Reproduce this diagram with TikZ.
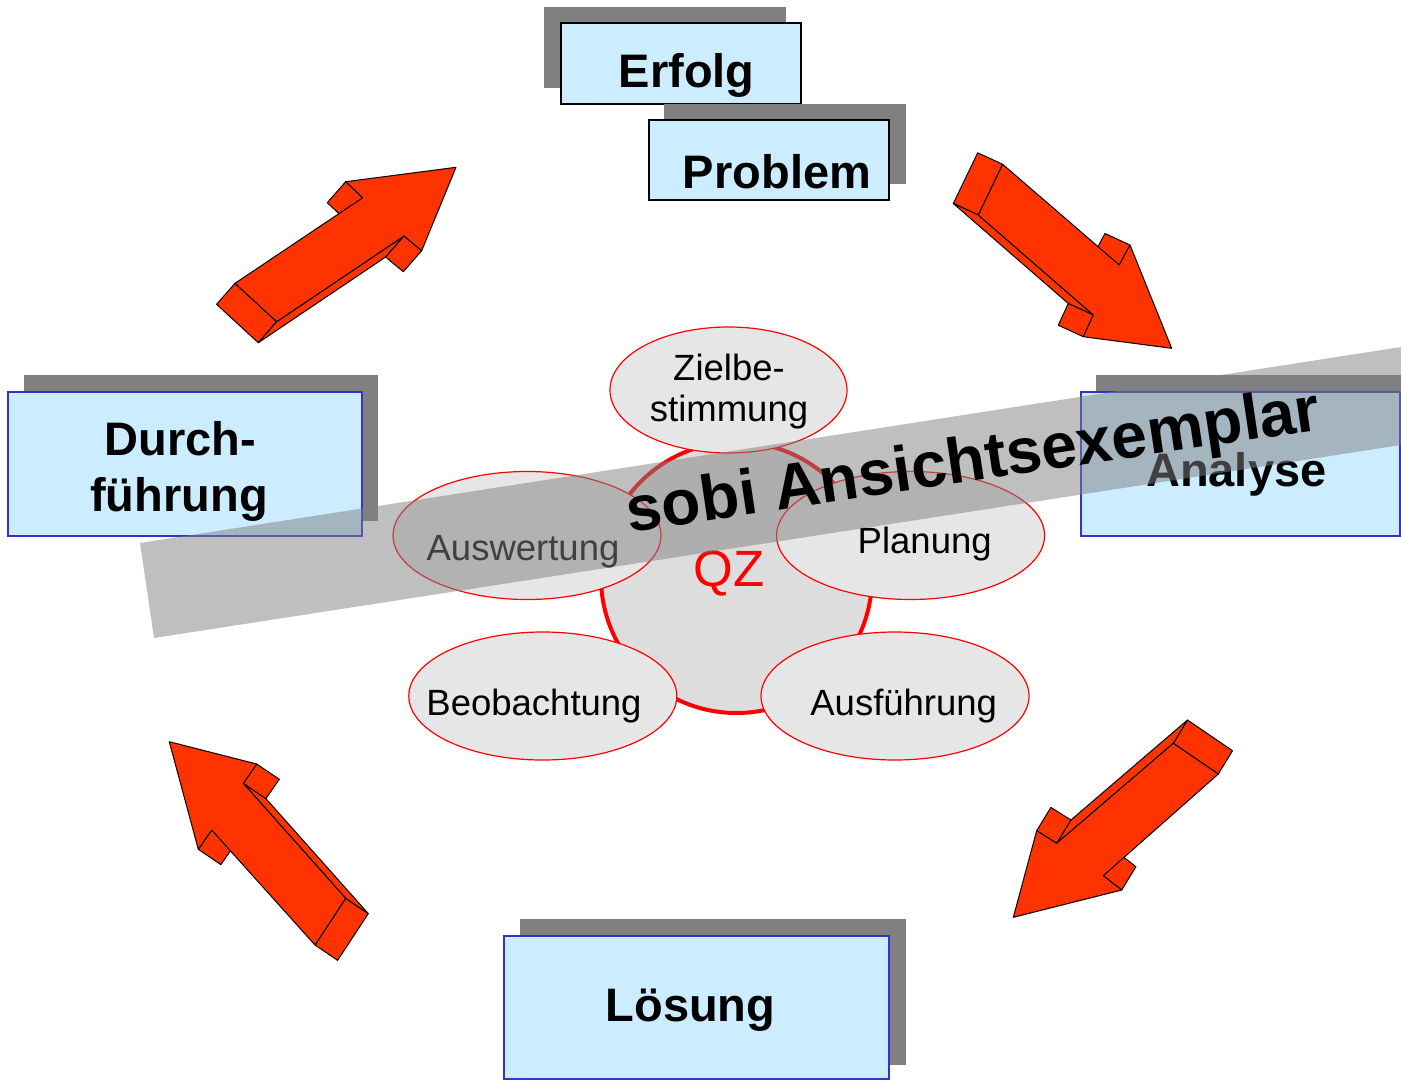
\documentclass[tikz,border=0pt]{standalone}
\usepackage{fontspec}
\setmainfont{Liberation Sans}
\usetikzlibrary{shapes.geometric,calc}
\definecolor{arrowred}{RGB}{255,51,0}
\definecolor{boxblue}{RGB}{204,236,255}
\definecolor{borderblue}{RGB}{51,51,204}
\definecolor{shadowgray}{RGB}{128,128,128}
\definecolor{ellgray}{RGB}{230,230,230}
\definecolor{circgray}{RGB}{221,221,221}
\newcommand\sideface[3]{\filldraw[arrowbody] (#1) -- (#2) -- ($(#2)+(#3)$) -- ($(#1)+(#3)$) -- cycle;}
\newcommand\frontface[1]{\filldraw[arrowbody] (#1p1) -- (#1p2) -- (#1p3) -- (#1p4) -- (#1p5) -- (#1p6) -- (#1p7) -- cycle;}
\begin{document}
\begin{tikzpicture}[x=1pt,y=-1pt,
  arrowbody/.style={fill=arrowred, draw=black, line width=1pt, line join=round},
  shadowbox/.style={fill=shadowgray},
  blackbox/.style={rectangle, draw=black, fill=boxblue, line width=2pt, inner sep=0pt},
  bluebox/.style={rectangle, draw=borderblue, fill=boxblue, line width=2pt, inner sep=0pt},
  boxtext/.style={anchor=base, inner sep=0pt, font=\bfseries\fontsize{47}{56}\selectfont},
  oval/.style={ellipse, draw=red, line width=1.2pt, fill=ellgray, inner sep=0pt,
               minimum width=268pt, minimum height=128pt},
  ovaltext/.style={anchor=base, inner sep=0pt, font=\fontsize{36.5}{40}\selectfont},
]
\useasboundingbox (0,0) rectangle (1401,1080);

% ---------- arrow 1 (top right) ----------
\coordinate (a1p1) at (1002.7,164.3);
\coordinate (a1p2) at (1119.3,265);
\coordinate (a1p3) at (1130,245);
\coordinate (a1p4) at (1171.7,348.3);
\coordinate (a1p5) at (1083.3,336.7);
\coordinate (a1p6) at (1093.3,315);
\coordinate (a1p7) at (978.3,215);
\coordinate (a1o) at (-25,-11.5);
\sideface{a1p7}{a1p1}{a1o}
\sideface{a1p6}{a1p7}{a1o}
\sideface{a1p5}{a1p6}{a1o}
\sideface{a1p2}{a1p3}{a1o}
\frontface{a1}

% ---------- arrow 2 (top left) ----------
\coordinate (a2p1) at (235,283.3);
\coordinate (a2p2) at (362.7,197.7);
\coordinate (a2p3) at (345.7,181.7);
\coordinate (a2p4) at (456,167.3);
\coordinate (a2p5) at (421.7,250.7);
\coordinate (a2p6) at (404,236);
\coordinate (a2p7) at (276.7,321.7);
\coordinate (a2o) at (-18.4,21);
\sideface{a2p7}{a2p1}{a2o}
\sideface{a2p6}{a2p7}{a2o}
\sideface{a2p5}{a2p6}{a2o}
\sideface{a2p2}{a2p3}{a2o}
\frontface{a2}

% ---------- arrow 3 (bottom right) ----------
\coordinate (a3p1) at (1173.3,743.3);
\coordinate (a3p2) at (1056.7,843.3);
\coordinate (a3p3) at (1036.7,830.7);
\coordinate (a3p4) at (1013.3,917.3);
\coordinate (a3p5) at (1121.7,890);
\coordinate (a3p6) at (1103.3,875.7);
\coordinate (a3p7) at (1218.3,774);
\coordinate (a3o) at (14.2,-23.3);
\sideface{a3p7}{a3p1}{a3o}
\sideface{a3p1}{a3p2}{a3o}
\sideface{a3p2}{a3p3}{a3o}
\sideface{a3p5}{a3p6}{a3o}
\frontface{a3}

% ---------- arrow 4 (bottom left) ----------
\coordinate (a4p1) at (345.7,898.3);
\coordinate (a4p2) at (243.3,783.3);
\coordinate (a4p3) at (256.7,764);
\coordinate (a4p4) at (169.3,741.7);
\coordinate (a4p5) at (198.3,849.3);
\coordinate (a4p6) at (211.7,830);
\coordinate (a4p7) at (315,945);
\coordinate (a4o) at (22.6,15.3);
\sideface{a4p7}{a4p1}{a4o}
\sideface{a4p1}{a4p2}{a4o}
\sideface{a4p2}{a4p3}{a4o}
\sideface{a4p5}{a4p6}{a4o}
\frontface{a4}

% ---------- boxes ----------
\fill[shadowbox] (544,7.3) rectangle (786,88.3);
\node[blackbox, minimum width=240pt, minimum height=80.7pt] (erfolg) at (680.7,63.7) {};
\node[boxtext] (erfolgtxt) at (686.7,87.3) {Erfolg};

\fill[shadowbox] (664,104) rectangle (906,184);
\node[blackbox, minimum width=240pt, minimum height=80pt] (problem) at (769,160) {};
\node[boxtext] (problemtxt) at (777,188.5) {Problem};

\fill[shadowbox] (24,375) rectangle (377.7,520.7);
\node[bluebox, minimum width=353.4pt, minimum height=144.3pt] (durch) at (185,463.85) {};
\node[boxtext] (durchtxta) at (180.3,455) {Durch-};
\node[boxtext] (durchtxtb) at (179,511.7) {führung};

\fill[shadowbox] (1096,375) rectangle (1410,520.7);
\node[bluebox, minimum width=319.3pt, minimum height=144.3pt] (analyse) at (1240.35,463.85) {};
\node[boxtext] (analysetxt) at (1236.3,486.7) {Analyse};

\fill[shadowbox] (520,919) rectangle (906,1065);
\node[bluebox, minimum width=385pt, minimum height=143.6pt] (loesung) at (696.8,1007.5) {};
\node[boxtext] (loesungtxt) at (690.5,1021.7) {Lösung};

% ---------- QZ circle ----------
\node[circle, draw=red, line width=4pt, fill=circgray, minimum size=271pt, inner sep=0pt] (qz) at (736.5,577.5) {};
\node[anchor=base, inner sep=0pt, text=red, font=\fontsize{51}{56}\selectfont] (qztxt) at (729,586.7) {QZ};

% ---------- ovals ----------
\node[oval, minimum width=237pt, minimum height=126pt] (ziel) at (728.5,390) {};
\node[ovaltext] (zieltxta) at (729,380) {Zielbe-};
\node[ovaltext] (zieltxtb) at (729,421.7) {stimmung};

\node[oval] (ausw) at (527,535.5) {};
\node[ovaltext] (auswtxt) at (523,560) {Auswertung};

\node[oval] (plan) at (910.6,535.5) {};
\node[ovaltext] (plantxt) at (924.7,553.3) {Planung};

\node[oval] (beob) at (542.8,696) {};
\node[ovaltext] (beobtxt) at (534,715.5) {Beobachtung};

\node[oval] (ausf) at (895,696) {};
\node[ovaltext] (ausftxt) at (903.7,715.5) {Ausführung};

% ---------- watermark ----------
\fill[shadowgray, opacity=0.5] (140,543) -- (1401,347) -- (1401,445) -- (154,638) -- cycle;
\node[anchor=base, inner sep=0pt, rotate=8.45, font=\bfseries\fontsize{64}{70}\selectfont] (wm) at (976,480.8) {sobi Ansichtsexemplar};
\end{tikzpicture}
\end{document}
